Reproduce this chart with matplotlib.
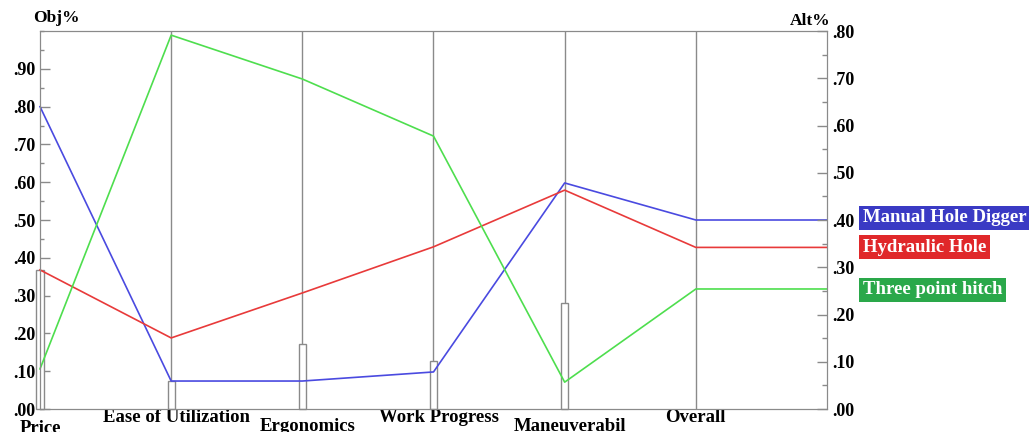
import matplotlib
matplotlib.use("Agg")
import matplotlib.pyplot as plt
import matplotlib.transforms as mtransforms
from matplotlib.ticker import MultipleLocator, FixedLocator

criteria = ["Price", "Ease of Utilization", "Ergonomics", "Work Progress", "Maneuverabil", "Overall"]
crit_weights = [0.368, 0.074, 0.172, 0.127, 0.28]  # objective weights (Obj%)

alternatives = ["Manual Hole Digger", "Hydraulic Hole", "Three point hitch"]
manual = [0.80, 0.074, 0.074, 0.098, 0.598]
hydraulic = [0.368, 0.188, 0.307, 0.429, 0.579]
three_point = [0.106, 0.989, 0.873, 0.722, 0.071]
overall = [0.40, 0.342, 0.254]  # Alt% (right axis)

line_colors = ["#4a4ae0", "#e83a3a", "#4ede4e"]
box_colors = ["#3a3ac4", "#e0282a", "#2aa84a"]

OBJ_MAX = 1.0
ALT_MAX = 0.8

plt.rcParams['font.family'] = ['Liberation Serif', 'DejaVu Serif']
plt.rcParams['font.weight'] = 'bold'

fig = plt.figure(figsize=(10.29, 4.32), dpi=100)
ax = fig.add_axes([40/1029, 1 - 409/432, (827-40)/1029, (409-31)/432])
ax2 = ax.twinx()

n = len(criteria)
ax.set_xlim(0, n)
ax.set_ylim(0, OBJ_MAX)
ax2.set_ylim(0, ALT_MAX)

grey = "#8a8a8a"
for sp in ["left", "right", "top", "bottom"]:
    ax.spines[sp].set_color(grey)
    ax2.spines[sp].set_color(grey)

# vertical criterion lines
for i in range(1, n):
    ax.axvline(i, color=grey, lw=1.0, zorder=1)

# criterion weight bars
ax.bar(range(len(crit_weights)), crit_weights, width=0.055, facecolor="white",
       edgecolor=grey, lw=1.0, zorder=2, clip_on=False)

# alternative lines
series = [manual, hydraulic, three_point]
xs = list(range(n)) + [n]
for vals, ov, c in zip(series, overall, line_colors):
    ov_left = ov / ALT_MAX * OBJ_MAX
    ys = list(vals) + [ov_left, ov_left]
    ax.plot(xs, ys, color=c, lw=1.2, zorder=3, clip_on=False)

# ticks
ax.set_xticks([])
ax.yaxis.set_major_locator(FixedLocator([0, .1, .2, .3, .4, .5, .6, .7, .8, .9]))
ax.yaxis.set_minor_locator(MultipleLocator(0.05))
ax.set_yticklabels([".00", ".10", ".20", ".30", ".40", ".50", ".60", ".70", ".80", ".90"])
ax.tick_params(axis='y', which='major', direction='in', length=7, width=1, color=grey,
               pad=3, labelsize=13)
ax.tick_params(axis='y', which='minor', direction='in', length=3, width=1, color=grey)

ax2.yaxis.set_major_locator(FixedLocator([0, .1, .2, .3, .4, .5, .6, .7, .8]))
ax2.yaxis.set_minor_locator(MultipleLocator(0.05))
ax2.set_yticklabels([".00", ".10", ".20", ".30", ".40", ".50", ".60", ".70", ".80"])
ax2.tick_params(axis='y', which='major', direction='in', length=7, width=1, color=grey,
                pad=4, labelsize=13)
ax2.tick_params(axis='y', which='minor', direction='in', length=3.5, width=1, color=grey)

# axis titles
fig.text(33/1029, 1 - 18/432, "Obj%", ha='left', va='center', fontsize=12.5, fontweight='bold')
fig.text(830/1029, 1 - 21/432, "Alt%", ha='right', va='center', fontsize=12.5, fontweight='bold')

# criterion labels (staggered)
trans = mtransforms.blended_transform_factory(ax.transData, fig.transFigure)
for i, name in enumerate(criteria):
    ytop = (420 if i == 0 else 418) if i % 2 == 0 else 409
    ax.text(i + 0.04 * (i > 0 and i < 5), 1 - ytop/432, name, transform=trans, ha='center', va='top',
            fontsize=13.5, fontweight='bold', clip_on=False)

# alternative labels
label_y = [218, 247, 290]
for name, c, y in zip(alternatives, box_colors, label_y):
    fig.text(863/1029, 1 - y/432, name, ha='left', va='center', fontsize=13.5,
             fontweight='bold', color='white',
             bbox=dict(boxstyle='square,pad=0.2', facecolor=c, edgecolor='none'))

fig.savefig("out.png", dpi=100)
